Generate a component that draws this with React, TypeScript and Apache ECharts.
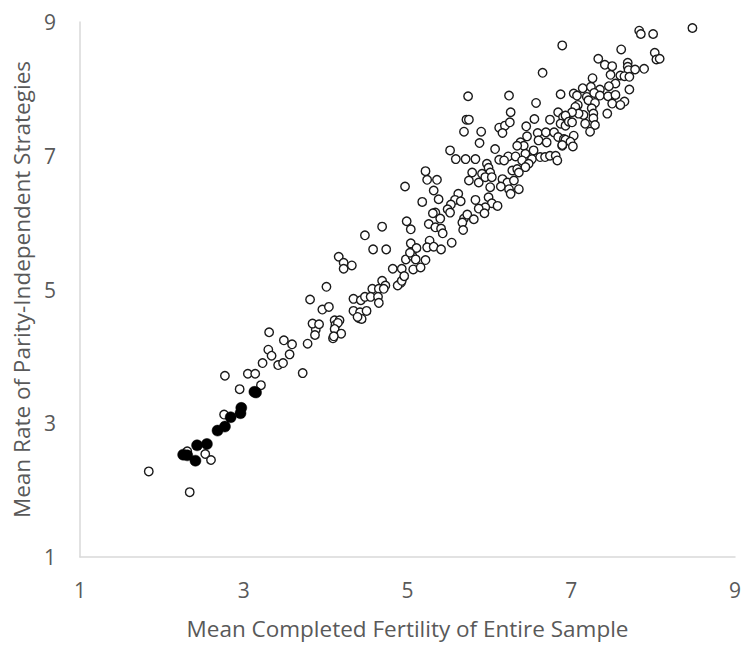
import React, { useEffect, useRef } from "react";
import * as echarts from "echarts";

const xTicks = [1, 3, 5, 7, 9];
const yTicks = [1, 3, 5, 7, 9];
const xTitle = "Mean Completed Fertility of Entire Sample";
const yTitle = "Mean Rate of Parity-Independent Strategies";

// Filled (black) markers
const filledPoints: number[][] = [
  [2.26, 2.53], [2.31, 2.52], [2.41, 2.44], [2.43, 2.67], [2.55, 2.69], [2.68, 2.89],
  [2.77, 2.95], [2.84, 3.09], [2.96, 3.15], [2.97, 3.23], [3.13, 3.47], [3.15, 3.46],
];

// Hollow markers, low range
const openLow: number[][] = [
  [1.84, 2.28], [2.34, 1.97], [2.31, 2.58], [2.53, 2.54], [2.6, 2.45], [2.76, 3.13],
  [2.77, 3.71], [2.95, 3.51], [3.05, 3.74], [3.14, 3.74], [3.21, 3.57], [3.23, 3.9],
  [3.31, 4.36], [3.3, 4.1], [3.34, 4.01], [3.42, 3.87], [3.48, 3.9], [3.49, 4.24],
  [3.59, 4.18], [3.56, 4.03], [3.88, 4.4], [3.72, 3.75],
];

// Hollow markers, middle range
const openMid: number[][] = [
  [4.01, 5.04], [4.69, 5.13], [4.73, 5.06], [4.57, 5.01], [4.65, 5.01], [4.71, 5.01],
  [4.92, 5.1], [4.88, 5.06], [4.93, 5.13], [3.81, 4.85], [4.34, 4.86], [4.43, 4.84],
  [4.48, 4.89], [4.55, 4.89], [4.64, 4.89], [4.65, 4.8], [3.96, 4.7], [4.04, 4.74],
  [4.34, 4.68], [4.42, 4.66], [4.5, 4.68], [4.41, 4.57], [4.44, 4.56], [4.39, 4.59],
  [3.84, 4.49], [3.92, 4.48], [4.11, 4.54], [4.17, 4.54], [4.12, 4.47], [4.15, 4.5],
  [4.11, 4.41], [3.87, 4.32], [4.19, 4.34], [4.09, 4.27], [4.1, 4.3], [3.78, 4.19],
  [4.97, 6.54], [5.32, 6.48], [5.18, 6.31], [5.38, 6.35], [5.62, 6.43], [5.58, 6.34],
  [5.53, 6.27], [5.65, 6.32], [5.49, 6.2], [5.52, 6.15], [5.34, 6.15], [5.31, 6.14],
  [5.4, 6.06], [5.69, 6.06], [5.73, 6.12], [5.81, 6.05], [5.67, 6.0], [4.99, 6.02],
  [5.04, 5.9], [5.26, 5.98], [5.34, 5.93], [5.41, 5.91], [5.43, 5.84], [5.68, 5.89],
  [4.69, 5.94], [4.48, 5.81], [5.54, 5.7], [5.04, 5.69], [5.27, 5.73], [5.11, 5.62],
  [5.24, 5.63], [5.32, 5.64], [5.41, 5.6], [4.58, 5.6], [4.74, 5.6], [4.16, 5.49],
  [4.98, 5.45], [5.06, 5.5], [5.03, 5.55], [5.1, 5.45], [5.22, 5.44], [4.22, 5.4],
  [4.32, 5.36], [4.22, 5.31], [4.82, 5.31], [4.93, 5.31], [4.96, 5.2], [5.07, 5.3],
  [5.16, 5.33],
];

// Hollow markers, upper-middle range
const openUpperMid: number[][] = [
  [5.74, 7.89], [6.24, 7.9], [6.87, 7.92], [6.57, 7.79], [6.26, 7.65], [5.72, 7.54],
  [5.75, 7.54], [6.12, 7.42], [6.19, 7.45], [6.25, 7.5], [6.16, 7.34], [5.69, 7.36],
  [5.9, 7.36], [5.88, 7.19], [6.45, 7.44], [6.55, 7.55], [6.74, 7.54], [6.84, 7.65],
  [6.9, 7.58], [6.87, 7.48], [6.93, 7.45], [6.59, 7.34], [6.69, 7.35], [6.79, 7.35],
  [6.84, 7.28], [6.91, 7.25], [6.46, 7.29], [6.6, 7.23], [6.7, 7.2], [6.89, 7.15],
  [6.38, 7.2], [6.42, 7.15], [6.34, 7.15], [6.07, 7.1], [5.52, 7.08], [5.59, 6.95],
  [5.71, 6.95], [5.83, 6.95], [5.97, 6.88], [6.12, 6.94], [6.23, 6.99], [6.32, 6.99],
  [6.44, 7.03], [6.54, 7.08], [6.52, 6.95], [6.62, 6.98], [6.68, 6.98], [6.74, 7.0],
  [6.81, 7.0], [6.83, 6.93], [6.18, 6.93], [6.4, 6.93], [6.48, 6.88], [5.99, 6.82],
  [6.01, 6.75], [5.91, 6.73], [5.79, 6.75], [6.28, 6.78], [6.34, 6.8], [6.36, 6.75],
  [6.44, 6.83], [5.22, 6.77], [5.24, 6.64], [5.36, 6.64], [5.75, 6.63], [5.87, 6.6],
  [5.95, 6.68], [6.03, 6.68], [6.16, 6.65], [6.22, 6.6], [6.3, 6.63], [6.14, 6.54],
  [6.24, 6.5], [6.36, 6.5], [6.01, 6.53], [6.26, 6.43], [5.83, 6.34], [5.99, 6.38],
  [6.03, 6.29], [5.95, 6.23], [5.87, 6.21], [6.1, 6.25], [5.94, 6.14],
];

// Hollow markers, high range
const openHigh: number[][] = [
  [8.48, 8.91], [7.83, 8.87], [7.85, 8.82], [8.0, 8.82], [6.89, 8.65], [7.61, 8.59],
  [8.02, 8.54], [8.04, 8.44], [8.08, 8.45], [7.33, 8.45], [7.41, 8.36], [7.5, 8.34],
  [7.69, 8.39], [7.69, 8.33], [7.7, 8.28], [7.78, 8.29], [7.89, 8.3], [7.48, 8.21],
  [7.6, 8.2], [7.65, 8.19], [7.71, 8.18], [7.26, 8.16], [7.54, 8.08], [7.71, 7.99],
  [7.14, 8.01], [7.24, 8.03], [7.35, 7.99], [7.46, 8.04], [7.03, 7.93], [7.07, 7.9],
  [7.19, 7.88], [7.28, 7.94], [7.35, 7.9], [7.45, 7.89], [7.54, 7.91], [7.65, 7.81],
  [7.5, 7.78], [7.6, 7.76], [7.44, 7.63], [7.21, 7.83], [7.29, 7.79], [7.25, 7.71],
  [7.08, 7.76], [7.05, 7.73], [7.15, 7.61], [7.27, 7.63], [7.09, 7.63], [7.01, 7.65],
  [6.93, 7.6], [6.97, 7.51], [7.01, 7.5], [7.27, 7.56], [7.17, 7.48], [7.29, 7.46],
  [7.23, 7.36], [7.03, 7.3], [6.93, 7.24], [6.99, 7.21], [6.89, 7.16], [7.02, 7.14],
  [6.65, 8.24],
];

const FONT = "'Open Sans', 'Noto Sans', sans-serif";
const GRAY = "#595959";

export default function App() {
  const ref = useRef<HTMLDivElement>(null);
  useEffect(() => {
    if (!ref.current) return;
    const chart = echarts.init(ref.current, undefined, { renderer: "svg" });
    const openPoints = [...openLow, ...openMid, ...openUpperMid, ...openHigh];
    chart.setOption({
      animation: false,
      backgroundColor: "#ffffff",
      grid: { left: 80, right: 7, top: 22, bottom: 86 },
      xAxis: {
        type: "value",
        min: xTicks[0],
        max: xTicks[xTicks.length - 1],
        interval: 2,
        name: xTitle,
        nameLocation: "middle",
        nameGap: 60,
        nameTextStyle: { color: GRAY, fontSize: 22.5, fontFamily: FONT },
        axisLine: { show: true, lineStyle: { color: "#d9d9d9", width: 1.5 } },
        axisTick: { show: false },
        splitLine: { show: false },
        axisLabel: { color: GRAY, fontSize: 21, fontFamily: FONT, margin: 22 },
      },
      yAxis: {
        type: "value",
        min: yTicks[0],
        max: yTicks[yTicks.length - 1],
        interval: 2,
        name: yTitle,
        nameLocation: "middle",
        nameGap: 44,
        nameTextStyle: { color: GRAY, fontSize: 22.5, fontFamily: FONT },
        axisLine: { show: true, lineStyle: { color: "#d9d9d9", width: 1.5 } },
        axisTick: { show: false },
        splitLine: { show: false },
        axisLabel: { color: GRAY, fontSize: 21, fontFamily: FONT, margin: 24 },
      },
      series: [
        {
          type: "scatter",
          data: openPoints,
          symbol: "circle",
          symbolSize: 8.5,
          itemStyle: { color: "#ffffff", borderColor: "#1a1a1a", borderWidth: 1.4, opacity: 1 },
        },
        {
          type: "scatter",
          data: filledPoints,
          symbol: "circle",
          symbolSize: 11,
          itemStyle: { color: "#000000", borderColor: "#000000", borderWidth: 0.5, opacity: 1 },
        },
      ],
    });
    return () => chart.dispose();
  }, []);
  return (
    <div
      ref={ref}
      style={{ position: "fixed", left: 0, top: 0, width: 744, height: 645, background: "#fff" }}
    />
  );
}
